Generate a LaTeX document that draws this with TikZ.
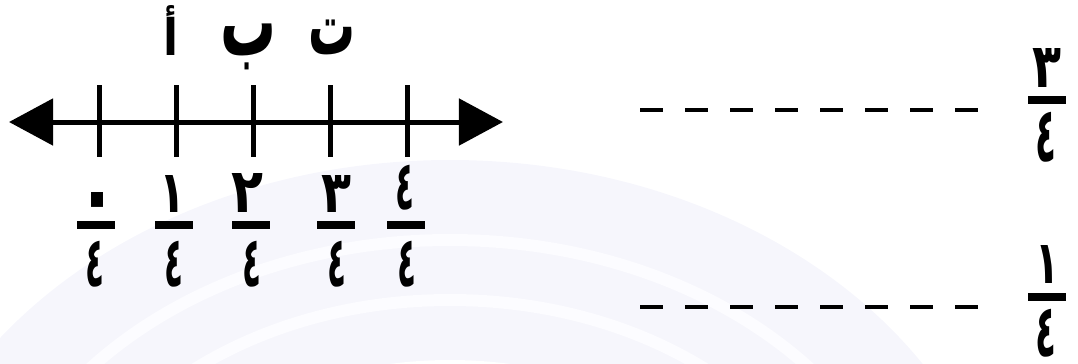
\documentclass[tikz,border=0pt]{standalone}
\usepackage{fontspec}
\usetikzlibrary{arrows.meta, backgrounds}
\TeXXeTstate=1
\newfontfamily\arabicfont[Script=Arabic]{DejaVu Sans}
\definecolor{ink}{RGB}{0,0,0}
\definecolor{wmark}{RGB}{246,246,252}
\definecolor{wband}{RGB}{252,252,255}
\newlength{\pxunit}
\setlength{\pxunit}{0.025cm}
% glyph squeezed into a box of #1 x #2 pixels
\newcommand{\glyphbox}[3]{\resizebox*{#1\pxunit}{#2\pxunit}{\arabicfont\bfseries #3}}
\tikzset{
  numline/.style  = {line width=0.125cm, color=ink,
                     {Triangle[length=1.1cm, width=1.15cm]}-{Triangle[length=1.1cm, width=1.15cm]}},
  tickmark/.style = {line width=0.125cm, color=ink},
  glyph/.style    = {anchor=south, inner sep=0pt, outer sep=0pt},
  fracbar/.style  = {rectangle, fill=ink, inner sep=0pt, minimum width=0.96cm, minimum height=0.19cm},
  blank/.style    = {line width=0.1cm, color=ink, dash pattern=on 0.575cm off 0.55cm},
}

\begin{document}
\begin{tikzpicture}[x=0.025cm, y=-0.025cm]

  \useasboundingbox (0,0) rectangle (1078,363);

  %─── Number line ───────────────────────────────────────────────────────────
  \coordinate (lend) at (9,122);
  \coordinate (rend) at (503,122);
  \draw[numline] (lend) -- (rend);

  \coordinate (t0a) at (99,85);   \coordinate (t0b) at (99,157);
  \coordinate (t1a) at (176,85);  \coordinate (t1b) at (176,157);
  \coordinate (t2a) at (253,85);  \coordinate (t2b) at (253,157);
  \coordinate (t3a) at (330,85);  \coordinate (t3b) at (330,157);
  \coordinate (t4a) at (407,85);  \coordinate (t4b) at (407,157);
  \draw[tickmark] (t0a) -- (t0b);
  \draw[tickmark] (t1a) -- (t1b);
  \draw[tickmark] (t2a) -- (t2b);
  \draw[tickmark] (t3a) -- (t3b);
  \draw[tickmark] (t4a) -- (t4b);

  %─── Point labels ──────────────────────────────────────────────────────────
  \node[glyph] at (171,55) (alif) {\glyphbox{15}{50}{\beginR أ\endR}};
  \node[glyph] at (249,70) (baa)  {\glyphbox{56}{46}{\beginR ب\endR}};
  \node[glyph] at (332,55) (taa)  {\glyphbox{47}{35}{\beginR ت\endR}};

  %─── Fractions under the ticks ─────────────────────────────────────────────
  \node[glyph, anchor=north] at (97,192) (n0) {\glyphbox{42}{32}{\beginR ٠\endR}};
  \node[fracbar] at (96,225) (b0) {};
  \node[glyph] at (95,287)   (d0) {\glyphbox{19}{46}{\beginR ٤\endR}};

  \node[glyph] at (172,212)   (n1) {\glyphbox{26}{37}{\beginR ١\endR}};
  \node[fracbar] at (174,225) (b1) {};
  \node[glyph] at (174,287)   (d1) {\glyphbox{19}{46}{\beginR ٤\endR}};

  \node[glyph] at (247,212)   (n2) {\glyphbox{32}{39}{\beginR ٢\endR}};
  \node[fracbar] at (251,225) (b2) {};
  \node[glyph] at (252,287)   (d2) {\glyphbox{19}{46}{\beginR ٤\endR}};

  \node[glyph] at (336,212)   (n3) {\glyphbox{30}{37}{\beginR ٣\endR}};
  \node[fracbar] at (336,225) (b3) {};
  \node[glyph] at (337,287)   (d3) {\glyphbox{19}{46}{\beginR ٤\endR}};

  \node[glyph] at (405,210)   (n4) {\glyphbox{19}{45}{\beginR ٤\endR}};
  \node[fracbar] at (406,225) (b4) {};
  \node[glyph] at (407,287)   (d4) {\glyphbox{19}{46}{\beginR ٤\endR}};

  %─── Exercises (right) ─────────────────────────────────────────────────────
  \node[glyph] at (1047,87)    (qn1) {\glyphbox{29}{39}{\beginR ٣\endR}};
  \node[fracbar] at (1047,100) (qb1) {};
  \node[glyph] at (1046,162)   (qd1) {\glyphbox{21}{50}{\beginR ٤\endR}};
  \coordinate (q1a) at (640,110);
  \coordinate (q1b) at (978,110);
  \draw[blank] (q1a) -- (q1b);

  \node[glyph] at (1047,283)   (qn2) {\glyphbox{24}{38}{\beginR ١\endR}};
  \node[fracbar] at (1047,297) (qb2) {};
  \node[glyph] at (1046,357)   (qd2) {\glyphbox{21}{48}{\beginR ٤\endR}};
  \coordinate (q2a) at (640,307);
  \coordinate (q2b) at (978,307);
  \draw[blank] (q2a) -- (q2b);

  %─── Watermark ─────────────────────────────────────────────────────────────
  \begin{pgfonlayer}{background}
    \fill[wmark] (450,600) ellipse [x radius=560, y radius=440];
    \draw[wband, line width=0.3cm] (450,600) ellipse [x radius=470, y radius=360];
    \draw[wband, line width=0.3cm] (450,600) ellipse [x radius=400, y radius=300];
    \fill[white] (450,600) ellipse [x radius=330, y radius=240];
  \end{pgfonlayer}

\end{tikzpicture}
\end{document}
